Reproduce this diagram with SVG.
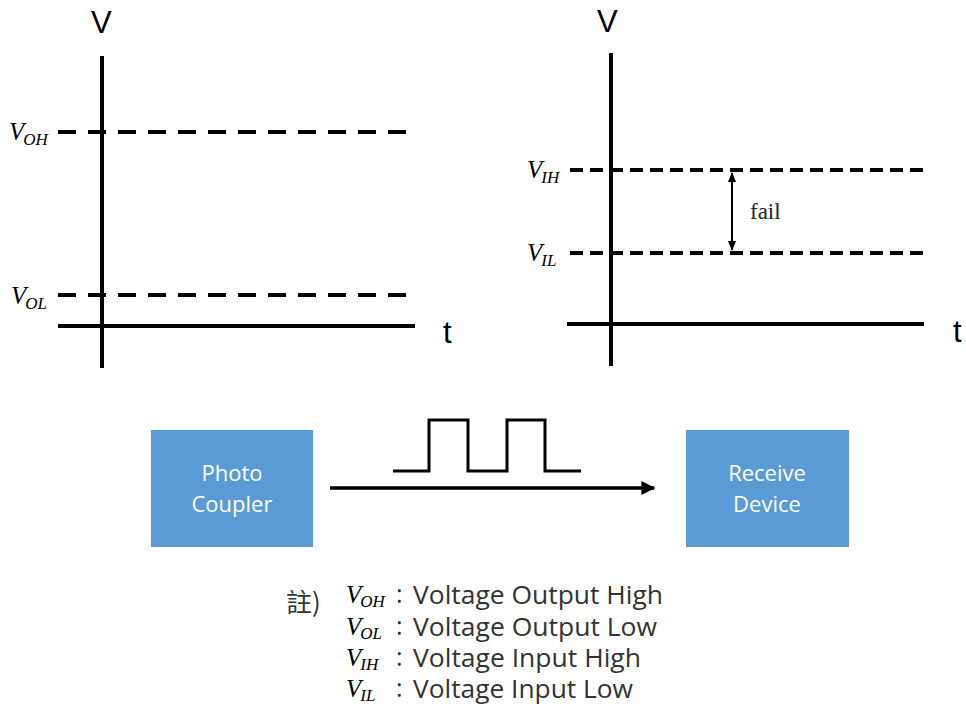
<svg xmlns="http://www.w3.org/2000/svg" width="966" height="706" viewBox="0 0 966 706">
<style>
.axis{stroke:#000;stroke-width:4;fill:none}
.dashL{stroke:#000;stroke-width:4;stroke-dasharray:18 12;fill:none}
.dashR{stroke:#000;stroke-width:4;stroke-dasharray:13 7;fill:none}
.ax{font-family:"Liberation Sans",Arial,sans-serif;font-size:31px;fill:#000}
.mv{font-family:"Liberation Serif",serif;font-style:italic;font-size:25px;fill:#000}
.ms{font-family:"Liberation Serif",serif;font-style:italic;font-size:17px;fill:#000}
.box{fill:#5B9BD5}
.bt{font-family:"Open Sans","DejaVu Sans",sans-serif;font-size:22px;fill:#fff;text-anchor:middle}
.lg{font-family:"Open Sans","DejaVu Sans",sans-serif;font-size:25px;fill:#333}
</style>
<defs>
<marker id="ah" viewBox="0 0 10 10" refX="9" refY="5" markerWidth="4" markerHeight="4" orient="auto-start-reverse">
<path d="M0,0 L10,5 L0,10 z" fill="#000"/>
</marker>
<marker id="ah2" viewBox="0 0 10 10" refX="9" refY="5" markerWidth="5" markerHeight="5" orient="auto-start-reverse">
<path d="M0,1 L10,5 L0,9 z" fill="#000"/>
</marker>
</defs>

<g id="chart-output">
<line class="dashL" x1="58" y1="132" x2="408" y2="132"/>
<line class="dashL" x1="58" y1="295" x2="408" y2="295"/>
<line class="axis" x1="102" y1="56" x2="102" y2="368"/>
<line class="axis" x1="58" y1="326" x2="415" y2="326"/>
<text class="ax" x="91" y="33">V</text>
<text class="ax" x="443" y="343">t</text>
<text class="mv" x="9" y="140">V<tspan class="ms" dy="5" dx="-1">OH</tspan></text>
<text class="mv" x="11" y="304">V<tspan class="ms" dy="5" dx="-1">OL</tspan></text>
</g>

<g id="chart-input">
<line class="dashR" x1="570" y1="170" x2="928" y2="170"/>
<line class="dashR" x1="570" y1="253" x2="928" y2="253"/>
<line class="axis" x1="611" y1="53" x2="611" y2="366"/>
<line class="axis" x1="567" y1="324" x2="924" y2="324"/>
<text class="ax" x="597" y="32">V</text>
<text class="ax" x="953" y="342">t</text>
<text class="mv" x="527" y="178">V<tspan class="ms" dy="5" dx="-1">IH</tspan></text>
<text class="mv" x="527" y="261">V<tspan class="ms" dy="5" dx="-1">IL</tspan></text>
<line x1="732" y1="173" x2="732" y2="250" stroke="#000" stroke-width="2" marker-start="url(#ah2)" marker-end="url(#ah2)"/>
<text x="750" y="219" font-family="Liberation Serif,serif" font-size="23" fill="#222">fail</text>
</g>

<g id="photo-coupler">
<rect class="box" x="151" y="430" width="162" height="117"/>
<text class="bt" x="232" y="481">Photo</text>
<text class="bt" x="232" y="512">Coupler</text>
</g>

<g id="receive-device">
<rect class="box" x="686" y="430" width="163" height="117"/>
<text class="bt" x="767" y="481">Receive</text>
<text class="bt" x="767" y="512">Device</text>
</g>

<g id="connectors">
<line x1="330" y1="488" x2="654" y2="488" stroke="#000" stroke-width="3.5" marker-end="url(#ah)"/>
<polyline points="393,471 429,471 429,420 468,420 468,471 507,471 507,420 545,420 545,471 581,471" fill="none" stroke="#000" stroke-width="3"/>
</g>

<g id="legend">
<text x="286" y="612" font-family="Noto Sans CJK TC,serif" font-size="26" fill="#333">註)</text>
<text class="mv" x="346" y="603">V<tspan class="ms" dy="4" dx="-1">OH</tspan></text>
<text class="mv" x="346" y="635">V<tspan class="ms" dy="4" dx="-1">OL</tspan></text>
<text class="mv" x="346" y="666">V<tspan class="ms" dy="4" dx="-1">IH</tspan></text>
<text class="mv" x="346" y="697">V<tspan class="ms" dy="4" dx="-1">IL</tspan></text>
<text class="lg" x="396" y="603">:</text>
<text class="lg" x="396" y="635">:</text>
<text class="lg" x="396" y="666">:</text>
<text class="lg" x="396" y="697">:</text>
<text class="lg" x="413" y="604" textLength="250" lengthAdjust="spacingAndGlyphs">Voltage Output High</text>
<text class="lg" x="413" y="636" textLength="244" lengthAdjust="spacingAndGlyphs">Voltage Output Low</text>
<text class="lg" x="413" y="667" textLength="228" lengthAdjust="spacingAndGlyphs">Voltage Input High</text>
<text class="lg" x="413" y="698" textLength="220" lengthAdjust="spacingAndGlyphs">Voltage Input Low</text>
</g>
</svg>
